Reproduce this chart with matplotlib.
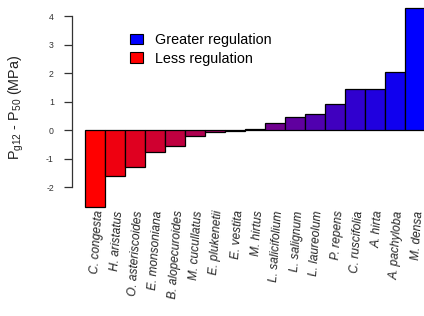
import numpy as np
import matplotlib
matplotlib.use('Agg')
import matplotlib.pyplot as plt
from matplotlib.patches import Patch

plt.rcParams['font.family'] = ['Liberation Sans', 'DejaVu Sans']
plt.rcParams['mathtext.default'] = 'regular'

species = ['C. congesta', 'H. aristatus', 'O. asteriscoides', 'E. monsoniana',
           'B. alopecuroides', 'M. cucullatus', 'E. plukenetii', 'E. vestita',
           'M. hirtus', 'L. salicifolium', 'L. salignum', 'L. laureolum',
           'P. repens', 'C. ruscifolia', 'A. hirta', 'A. pachyloba', 'M. densa']
values = [-2.71, -1.61, -1.29, -0.76, -0.55, -0.2, -0.07, -0.03,
          0.05, 0.24, 0.46, 0.58, 0.93, 1.45, 1.46, 2.06, 4.29]
yticks = [-2, -1, 0, 1, 2, 3, 4]
legend_labels = ['Greater regulation', 'Less regulation']

# red -> blue ramp like colorRampPalette(c("red", "blue"))
n = len(values)
t = np.linspace(0, 1, n)
colors = [(1 - v, 0, v) for v in t]

W, H = 424, 316
fig = plt.figure(figsize=(W / 100, H / 100), dpi=100)
ax = fig.add_axes([72 / W, 1 - 210 / H, (W - 72) / W, 210 / H])

x = np.arange(n)
ax.bar(x, values, width=1.0, color=colors, edgecolor='black', linewidth=0.9)

ax.set_xlim(-1.15, 16.45)
ax.set_ylim(-2.8, 4.57)

for s in ['top', 'right', 'bottom']:
    ax.spines[s].set_visible(False)
ax.spines['left'].set_bounds(-2, 4)
ax.spines['left'].set_color('#333333')
ax.spines['left'].set_linewidth(0.9)

ax.set_xticks([])
ax.set_yticks(yticks)
ax.set_yticklabels([str(v) for v in yticks])
ax.tick_params(axis='y', length=6, width=0.9, pad=7, labelsize=6.3,
               colors='#333333')

ax.set_ylabel(r'P$_{g12}$ - P$_{50}$ (MPa)', fontsize=10.4, color='#222222')
ax.yaxis.set_label_coords(-0.132, 0.49)

for i, name in enumerate(species):
    ax.text(i + 0.2, -2.82, name, rotation=86, rotation_mode='anchor',
            ha='right', va='center', fontsize=8.6, style='italic',
            color='#222222')

handles = [Patch(facecolor='blue', edgecolor='black', linewidth=0.8),
           Patch(facecolor='red', edgecolor='black', linewidth=0.8)]
fig.legend(handles, legend_labels, loc='upper left',
           bbox_to_anchor=(123 / W, 1 - 26 / H), frameon=False,
           fontsize=10.4, borderpad=0, handlelength=0.85, handleheight=0.7,
           handletextpad=0.85, labelspacing=0.3)

fig.savefig('out.png', dpi=100)
